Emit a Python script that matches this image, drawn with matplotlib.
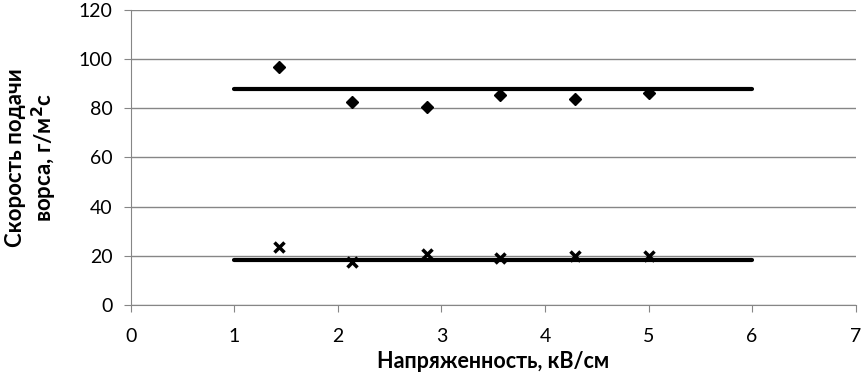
import matplotlib.pyplot as plt

# data
x_pts = [1.43, 2.14, 2.86, 3.57, 4.29, 5.0]
upper_pts = [96.9, 82.6, 80.3, 85.4, 83.9, 86.3]
lower_pts = [23.5, 17.5, 20.7, 19.2, 19.7, 19.8]
line_x = [1, 6]
upper_line = [87.8, 87.8]
lower_line = [18.2, 18.2]

plt.rcParams['font.family'] = ['Lato', 'DejaVu Sans']

fig = plt.figure(figsize=(8.66, 3.81), dpi=100)
ax = fig.add_axes([0.151, 0.2, 0.837, 0.774])

grey = '#868686'
ax.yaxis.grid(True, color=grey, linewidth=1)
ax.set_axisbelow(True)

ax.plot(line_x, upper_line, color='black', linewidth=3, solid_capstyle='round')
ax.plot(line_x, lower_line, color='black', linewidth=3, solid_capstyle='round')
ax.plot(x_pts, upper_pts, linestyle='none', marker='D', color='black', markersize=6)
ax.plot(x_pts, lower_pts, linestyle='none', marker='x', color='black',
        markersize=7, markeredgewidth=2.5)

ax.set_xlim(0, 7)
ax.set_ylim(0, 120)
ax.set_xticks(range(0, 8))
ax.set_yticks(range(0, 121, 20))

for side in ['top', 'right']:
    ax.spines[side].set_visible(False)
for side in ['left', 'bottom']:
    ax.spines[side].set_color(grey)
ax.tick_params(axis='both', colors=grey, length=5, labelsize=14, labelcolor='black')
ax.tick_params(axis='x', pad=12)
ax.tick_params(axis='y', pad=8)

ax.set_xlabel('Напряженность, кВ/см', fontsize=15.5, fontweight='bold', labelpad=4)
ax.set_ylabel('Скорость подачи\nворса, г/м$^\\mathbf{2}$с', fontsize=16,
              fontweight='bold', labelpad=14)

fig.savefig('out.png')
